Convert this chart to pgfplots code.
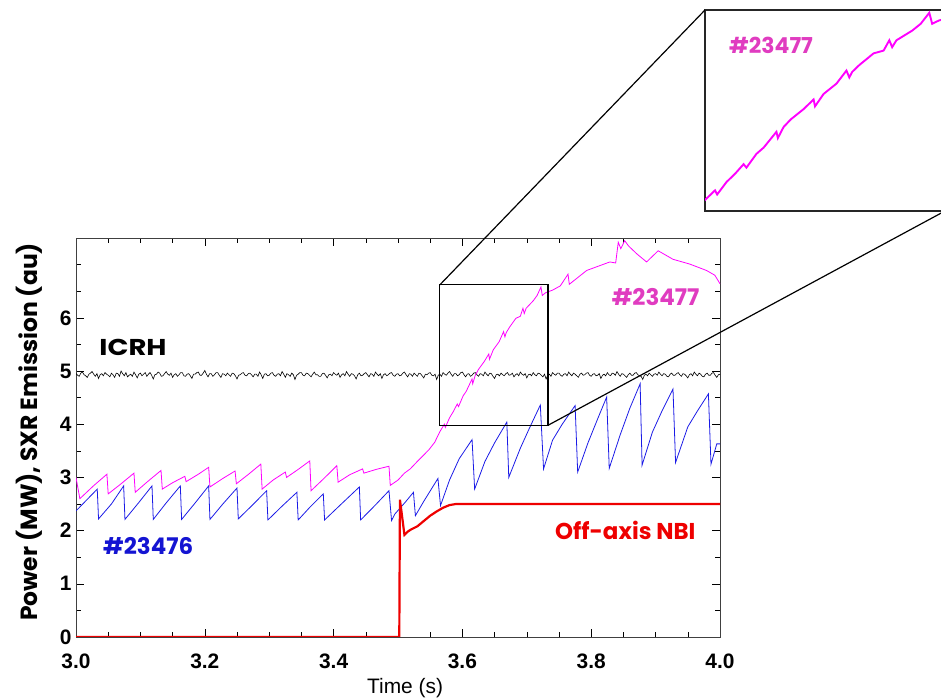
\documentclass[border=0pt]{standalone}
\usepackage{pgfplots}
\usepackage{pgfplotstable}
\pgfplotsset{compat=1.18}
\usepackage{fontspec}
\setmainfont{Liberation Sans}
\newfontfamily\lab{Poppins}
\definecolor{bl}{HTML}{1A1AE6}
\definecolor{blt}{HTML}{1414D2}
\definecolor{pk}{HTML}{FF00FF}
\definecolor{pkt}{HTML}{E03CC0}
\definecolor{rd}{HTML}{EE0000}
\pgfplotstableread{
x y
3.0000 4.95
3.0025 4.92
3.0050 4.90
3.0075 4.96
3.0100 4.98
3.0125 4.93
3.0150 4.91
3.0175 4.88
3.0200 4.94
3.0225 4.96
3.0250 4.99
3.0275 4.94
3.0300 4.90
3.0325 4.95
3.0350 4.86
3.0375 4.93
3.0400 4.95
3.0425 4.91
3.0450 4.97
3.0475 4.94
3.0500 4.92
3.0525 4.89
3.0550 4.96
3.0575 4.93
3.0600 4.88
3.0625 4.96
3.0650 4.95
3.0675 4.90
3.0700 5.00
3.0725 4.95
3.0750 4.91
3.0775 4.97
3.0800 4.89
3.0825 4.92
3.0850 4.94
3.0875 4.90
3.0900 4.98
3.0925 4.93
3.0950 4.87
3.0975 4.94
3.1000 4.96
3.1025 4.91
3.1050 4.94
3.1075 4.97
3.1100 4.90
3.1125 4.94
3.1150 4.97
3.1175 4.92
3.1200 4.85
3.1225 4.93
3.1250 4.94
3.1275 4.98
3.1300 4.96
3.1325 4.90
3.1350 4.91
3.1375 4.95
3.1400 4.99
3.1425 4.94
3.1450 4.92
3.1475 4.96
3.1500 4.88
3.1525 4.93
3.1550 4.95
3.1575 4.90
3.1600 4.93
3.1625 4.97
3.1650 4.97
3.1675 4.91
3.1700 4.90
3.1725 4.94
3.1750 4.95
3.1775 4.91
3.1800 4.86
3.1825 4.94
3.1850 4.94
3.1875 4.97
3.1900 4.98
3.1925 4.92
3.1950 4.92
3.1975 4.96
3.2000 5.01
3.2025 4.94
3.2050 4.89
3.2075 4.95
3.2100 4.95
3.2125 4.90
3.2150 4.93
3.2175 4.97
3.2200 4.97
3.2225 4.92
3.2250 4.88
3.2275 4.95
3.2300 4.94
3.2325 4.91
3.2350 4.96
3.2375 4.93
3.2400 4.90
3.2425 4.96
3.2450 4.95
3.2475 4.91
3.2500 4.85
3.2525 4.92
3.2550 4.93
3.2575 4.96
3.2600 4.97
3.2625 4.92
3.2650 4.91
3.2675 4.95
3.2700 4.96
3.2725 4.93
3.2750 4.89
3.2775 4.94
3.2800 4.94
3.2825 4.90
3.2850 4.98
3.2875 4.93
3.2900 4.86
3.2925 4.94
3.2950 4.95
3.2975 4.91
3.3000 4.92
3.3025 4.96
3.3050 4.97
3.3075 4.92
3.3100 4.90
3.3125 4.94
3.3150 4.95
3.3175 4.91
3.3200 4.99
3.3225 4.94
3.3250 4.88
3.3275 4.95
3.3300 4.93
3.3325 4.90
3.3350 4.96
3.3375 4.93
3.3400 4.84
3.3425 4.92
3.3450 4.94
3.3475 4.97
3.3500 4.97
3.3525 4.92
3.3550 4.91
3.3575 4.96
3.3600 4.95
3.3625 4.92
3.3650 4.89
3.3675 4.94
3.3700 4.98
3.3725 4.93
3.3750 4.93
3.3775 4.90
3.3800 4.90
3.3825 4.95
3.3850 4.96
3.3875 4.92
3.3900 4.87
3.3925 4.93
3.3950 4.94
3.3975 4.91
3.4000 4.97
3.4025 4.94
3.4050 4.92
3.4075 4.96
3.4100 4.88
3.4125 4.93
3.4150 4.95
3.4175 4.91
3.4200 4.99
3.4225 4.94
3.4250 4.90
3.4275 4.95
3.4300 4.94
3.4325 4.91
3.4350 4.85
3.4375 4.93
3.4400 4.96
3.4425 4.91
3.4450 4.92
3.4475 4.95
3.4500 4.97
3.4525 4.93
3.4550 4.89
3.4575 4.95
3.4600 4.94
3.4625 4.90
3.4650 4.98
3.4675 4.94
3.4700 4.91
3.4725 4.95
3.4750 4.86
3.4775 4.93
3.4800 4.95
3.4825 4.91
3.4850 4.93
3.4875 4.96
3.4900 4.97
3.4925 4.92
3.4950 4.90
3.4975 4.94
3.5000 4.95
3.5025 4.91
3.5050 4.92
3.5075 4.96
3.5100 4.98
3.5125 4.93
3.5150 4.89
3.5175 4.95
3.5200 4.94
3.5225 4.90
3.5250 4.96
3.5275 4.93
3.5300 4.90
3.5325 4.96
3.5350 4.95
3.5375 4.91
3.5400 4.87
3.5425 4.94
3.5450 4.93
3.5475 4.96
3.5500 4.97
3.5525 4.92
3.5550 4.91
3.5575 4.94
3.5600 4.84
3.5625 4.92
3.5650 4.94
3.5675 4.90
3.5700 4.97
3.5725 4.94
3.5750 4.92
3.5775 4.96
3.5800 4.99
3.5825 4.94
3.5850 4.90
3.5875 4.95
3.5900 4.95
3.5925 4.91
3.5950 4.93
3.5975 4.97
3.6000 4.98
3.6025 4.93
3.6050 4.89
3.6075 4.94
3.6100 4.95
3.6125 4.90
3.6150 4.92
3.6175 4.96
3.6200 4.97
3.6225 4.93
3.6250 4.90
3.6275 4.95
3.6300 4.94
3.6325 4.91
3.6350 4.98
3.6375 4.94
3.6400 4.91
3.6425 4.96
3.6450 4.95
3.6475 4.90
3.6500 4.86
3.6525 4.93
3.6550 4.94
3.6575 4.91
3.6600 4.96
3.6625 4.93
3.6650 4.91
3.6675 4.95
3.6700 4.97
3.6725 4.92
3.6750 4.93
3.6775 4.96
3.6800 4.89
3.6825 4.93
3.6850 4.95
3.6875 4.91
3.6900 4.98
3.6925 4.94
3.6950 4.92
3.6975 4.95
3.7000 4.87
3.7025 4.93
3.7050 4.94
3.7075 4.91
3.7100 4.97
3.7125 4.93
3.7150 4.91
3.7175 4.96
3.7200 4.95
3.7225 4.92
3.7250 4.89
3.7275 4.94
3.7300 4.85
3.7325 4.92
3.7350 4.94
3.7375 4.90
3.7400 4.97
3.7425 4.94
3.7450 4.92
3.7475 4.96
3.7500 4.96
3.7525 4.92
3.7550 4.90
3.7575 4.94
3.7600 4.95
3.7625 4.91
3.7650 4.98
3.7675 4.94
3.7700 4.91
3.7725 4.96
3.7750 4.94
3.7775 4.91
3.7800 4.88
3.7825 4.94
3.7850 4.96
3.7875 4.92
3.7900 4.93
3.7925 4.96
3.7950 4.97
3.7975 4.92
3.8000 4.90
3.8025 4.94
3.8050 4.95
3.8075 4.91
3.8100 4.92
3.8125 4.95
3.8150 4.86
3.8175 4.92
3.8200 4.94
3.8225 4.91
3.8250 4.97
3.8275 4.93
3.8300 4.91
3.8325 4.96
3.8350 4.95
3.8375 4.92
3.8400 4.99
3.8425 4.94
3.8450 4.90
3.8475 4.95
3.8500 4.94
3.8525 4.91
3.8550 4.88
3.8575 4.93
3.8600 4.96
3.8625 4.92
3.8650 4.92
3.8675 4.96
3.8700 4.97
3.8725 4.93
3.8750 4.91
3.8775 4.90
3.8800 4.84
3.8825 4.92
3.8850 4.94
3.8875 4.91
3.8900 4.96
3.8925 4.93
3.8950 4.90
3.8975 4.94
3.9000 4.95
3.9025 4.92
3.9050 4.98
3.9075 4.94
3.9100 4.91
3.9125 4.95
3.9150 4.94
3.9175 4.90
3.9200 4.89
3.9225 4.94
3.9250 4.96
3.9275 4.92
3.9300 4.92
3.9325 4.95
3.9350 4.97
3.9375 4.93
3.9400 4.90
3.9425 4.95
3.9450 4.94
3.9475 4.91
3.9500 4.87
3.9525 4.93
3.9550 4.95
3.9575 4.91
3.9600 4.98
3.9625 4.94
3.9650 4.91
3.9675 4.96
3.9700 4.94
3.9725 4.90
3.9750 4.89
3.9775 4.94
3.9800 4.96
3.9825 4.92
3.9850 4.92
3.9875 4.96
3.9900 4.97
3.9925 4.92
3.9950 4.88
3.9975 4.93
4.0000 4.94
}\icrh
\pgfplotstableread{
x y
3.000 2.37
3.033 2.78
3.035 2.22
3.055 2.50
3.074 2.84
3.076 2.21
3.097 2.52
3.118 2.84
3.120 2.21
3.140 2.52
3.162 2.84
3.164 2.21
3.185 2.52
3.206 2.84
3.208 2.21
3.228 2.50
3.250 2.80
3.252 2.22
3.274 2.48
3.296 2.75
3.298 2.20
3.320 2.46
3.343 2.72
3.345 2.20
3.364 2.45
3.384 2.69
3.386 2.20
3.412 2.50
3.440 2.82
3.442 2.20
3.464 2.47
3.486 2.75
3.490 2.19
3.495 2.31
3.511 2.53
3.524 2.72
3.527 2.28
3.540 2.55
3.562 2.98
3.566 2.47
3.580 2.95
3.595 3.35
3.615 3.71
3.619 2.78
3.635 3.30
3.650 3.65
3.669 4.04
3.672 3.00
3.690 3.55
3.705 3.95
3.721 4.36
3.726 3.16
3.740 3.70
3.755 4.00
3.775 4.35
3.779 3.10
3.795 3.65
3.810 4.10
3.824 4.51
3.828 3.17
3.845 3.80
3.860 4.30
3.876 4.76
3.879 3.23
3.895 3.85
3.910 4.25
3.927 4.66
3.931 3.28
3.950 3.95
3.965 4.25
3.982 4.57
3.986 3.25
3.995 3.63
4.000 3.63
}\blue
\pgfplotstableread{
x y
3.000 3.00
3.006 2.60
3.027 2.84
3.048 3.06
3.050 2.69
3.070 2.88
3.090 3.08
3.092 2.72
3.112 2.93
3.132 3.13
3.134 2.78
3.150 2.90
3.169 3.02
3.171 2.92
3.190 3.06
3.206 3.19
3.208 2.82
3.228 2.98
3.247 3.12
3.249 2.88
3.268 3.06
3.287 3.25
3.289 2.78
3.306 2.95
3.325 3.10
3.327 3.00
3.345 3.15
3.363 3.31
3.365 2.75
3.385 2.98
3.405 3.22
3.407 2.91
3.425 3.05
3.445 3.16
3.447 3.08
3.466 3.15
3.486 3.21
3.488 2.85
3.500 2.95
3.510 3.08
3.519 3.16
3.530 3.30
3.539 3.41
3.548 3.52
3.557 3.66
3.565 3.86
3.572 4.00
3.5735 3.94
3.580 4.12
3.586 4.24
3.592 4.38
3.594 4.33
3.601 4.53
3.606 4.62
3.615 4.85
3.616 4.76
3.620 4.92
3.625 5.03
3.634 5.18
3.641 5.32
3.642 5.22
3.648 5.40
3.657 5.55
3.664 5.74
3.666 5.64
3.668 5.72
3.673 5.82
3.683 5.99
3.690 6.03
3.694 6.18
3.696 6.08
3.699 6.18
3.710 6.32
3.716 6.42
3.722 6.58
3.724 6.42
3.729 6.47
3.740 6.52
3.752 6.60
3.764 6.82
3.766 6.63
3.793 6.89
3.829 7.05
3.838 7.03
3.842 7.42
3.846 7.30
3.852 7.45
3.858 7.35
3.871 7.20
3.886 7.05
3.904 7.26
3.927 7.10
3.953 7.01
3.979 6.89
3.992 6.80
4.000 6.64
}\pink
\pgfplotstableread{
x y
3.000 0
3.502 0
3.503 2.58
3.506 2.30
3.510 1.92
3.515 1.98
3.520 2.02
3.530 2.08
3.540 2.18
3.550 2.28
3.560 2.36
3.570 2.43
3.580 2.48
3.590 2.50
4.000 2.50
}\nbi
\begin{document}
\begin{tikzpicture}
\useasboundingbox (0,0) rectangle (941bp,698bp);
\begin{axis}[name=main, at={(76bp,61bp)}, anchor=south west, scale only axis,
  width=644bp, height=399bp, xmin=3, xmax=4, ymin=0, ymax=7.5,
  xtick={3,3.2,3.4,3.6,3.8,4}, xticklabels={3.0,3.2,3.4,3.6,3.8,4.0},
  minor x tick num=3, ytick={0,1,2,3,4,5,6},
  minor ytick={0.5,1.5,2.5,3.5,4.5,5.5,6.5,7,7.5},
  tick align=inside, major tick length=8bp, minor tick length=5bp,
  tick style={black, line width=0.6pt},
  axis line style={line width=0.8pt, black!75},
  /pgf/number format/assume math mode=true,
  ticklabel style={font=\bfseries\fontsize{21}{21}\selectfont},
  xticklabel style={yshift=-13bp},
  yticklabel style={xshift=-1bp},
  xlabel={Time (s)},
  xlabel style={font=\fontsize{21}{21}\selectfont, at={(axis description cs:0.511,-0.128)}, anchor=center},
  ylabel={Power (MW), SXR Emission (au)},
  ylabel style={font=\lab\bfseries\fontsize{23.5}{23.5}\selectfont, at={(axis description cs:-0.073,0.514)}, anchor=center, rotate=0},
]
\addplot[black, line width=0.6pt] table {\icrh};
\addplot[pk, line width=0.8pt] table {\pink};
\addplot[bl, line width=0.8pt] table {\blue};
\addplot[rd, line width=2.2pt] table {\nbi};
\draw[line width=1.2pt] (axis cs:3.565,3.98) rectangle (axis cs:3.733,6.62);
\coordinate (bTL) at (axis cs:3.565,6.62);
\coordinate (bBR) at (axis cs:3.733,3.98);
\node[font=\lab\bfseries\fontsize{23}{23}\selectfont, black, xscale=1.2] at (axis cs:3.0885,5.45) {ICRH};
\node[font=\lab\bfseries\fontsize{23}{23}\selectfont, blt] at (axis cs:3.112,1.71) {\#23476};
\node[font=\lab\bfseries\fontsize{23}{23}\selectfont, rd] at (axis cs:3.853,2.0) {Off-axis NBI};
\node[font=\lab\bfseries\fontsize{23}{23}\selectfont, pkt] at (axis cs:3.90,6.40) {\#23477};
\end{axis}
\begin{axis}[name=inset, at={(705bp,487bp)}, anchor=south west, scale only axis,
  width=240bp, height=201bp, xmin=3.565, xmax=3.733, ymin=3.70, ymax=6.62,
  ticks=none, axis line style={line width=1.2pt, black!85}]
\addplot[pk, line width=1.9pt] table {\pink};
\node[font=\lab\bfseries\fontsize{22}{22}\selectfont, pkt] at (axis description cs:0.275,0.826) {\#23477};
\end{axis}
\draw[line width=1.2pt] (bTL) -- (inset.north west);
\draw[line width=1.2pt] (bBR) -- (inset.south east);
\end{tikzpicture}
\end{document}
